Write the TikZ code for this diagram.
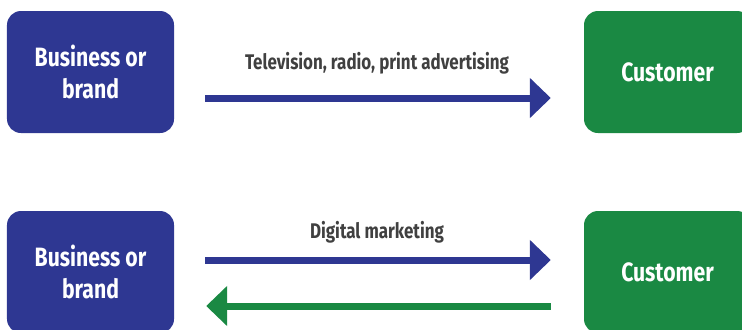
\documentclass[tikz,border=0pt]{standalone}
\usepackage{fontspec}
\setmainfont{Fira Sans}[FakeStretch=0.80]
\usetikzlibrary{arrows.meta}
\definecolor{bblue}{RGB}{46,55,146}
\definecolor{bgreen}{RGB}{26,137,67}
\definecolor{lblgray}{RGB}{64,64,64}
\tikzset{
  box/.style={rounded corners=14bp, minimum width=167bp, minimum height=122bp, inner sep=0pt,
    text=white, align=center, font=\fontsize{26.5bp}{32bp}\selectfont\bfseries},
  bluebox/.style={box, fill=bblue},
  greenbox/.style={box, fill=bgreen},
  arr/.style={line width=7bp, -{Triangle[length=21bp,width=39bp]}},
  lbl/.style={text=lblgray, font=\fontsize{21.2bp}{24bp}\selectfont\bfseries, inner sep=0pt}
}
\begin{document}
\begin{tikzpicture}[x=1bp,y=-1bp]
\useasboundingbox (0,0) rectangle (742,329);
\node[bluebox] (b1) at (90.5,72) {Business or\\brand};
\node[greenbox] (c1) at (667.5,72) {Customer};
\node[bluebox] (b2) at (90.5,272) {Business or\\brand};
\node[greenbox] (c2) at (667.5,272) {Customer};
\node[lbl] (l1) at (377,63) {Television, radio, print advertising};
\node[lbl] (l2) at (377,232) {Digital marketing};
\draw[arr, bblue, shorten <=31bp, shorten >=33bp] ([yshift=-26bp]b1.east) -- ([yshift=-26bp]c1.west);
\draw[arr, bblue, shorten <=31bp, shorten >=33bp] ([yshift=12bp]b2.east) -- ([yshift=12bp]c2.west);
\draw[arr, bgreen, shorten <=33bp, shorten >=32bp] ([yshift=-34bp]c2.west) -- ([yshift=-34bp]b2.east);
\end{tikzpicture}
\end{document}
